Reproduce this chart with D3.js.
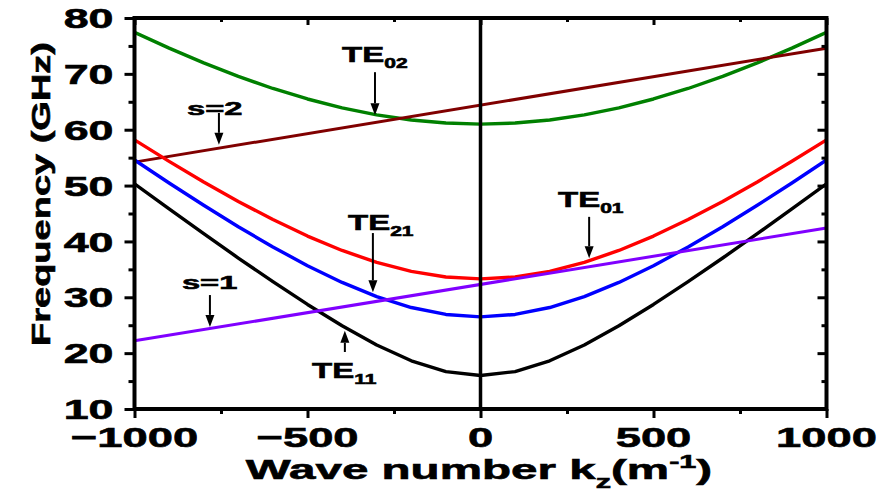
<!DOCTYPE html>
<html>
<head>
<meta charset="utf-8">
<script src="https://cdn.jsdelivr.net/npm/d3@7/dist/d3.min.js"></script>
<style>
  html, body { margin: 0; padding: 0; background: #fff; }
  svg { display: block; }
  text { font-family: "Liberation Sans", Arial, sans-serif; font-weight: bold; fill: #000;
         stroke: #000; stroke-width: 0.6px; }
</style>
</head>
<body>
<svg id="chart" width="880" height="499"></svg>
<script>
// Wave numbers (m^-1) at which the mode curves are sampled
const kz = [-1000, -900, -800, -700, -600, -500, -400, -300, -200, -100, 0,
            100, 200, 300, 400, 500, 600, 700, 800, 900, 1000];

// Waveguide mode dispersion curves, frequency in GHz
const te11 = [50.32, 45.82, 41.39, 37.03, 32.79, 28.72, 24.90, 21.47, 18.63, 16.70, 16.00,
              16.70, 18.63, 21.47, 24.90, 28.72, 32.79, 37.03, 41.39, 45.82, 50.32];
const te21 = [54.58, 50.46, 46.47, 42.63, 39.01, 35.66, 32.66, 30.12, 28.17, 26.93, 26.50,
              26.93, 28.17, 30.12, 32.66, 35.66, 39.01, 42.63, 46.47, 50.46, 54.58];
const te01 = [58.18, 54.34, 50.65, 47.16, 43.91, 40.96, 38.38, 36.25, 34.64, 33.64, 33.30,
              33.64, 34.64, 36.25, 38.38, 40.96, 43.91, 47.16, 50.65, 54.34, 58.18];
const te02 = [77.44, 74.60, 71.96, 69.54, 67.38, 65.50, 63.92, 62.66, 61.74, 61.19, 61.00,
              61.19, 61.74, 62.66, 63.92, 65.50, 67.38, 69.54, 71.96, 74.60, 77.44];

// Beam-wave (cyclotron harmonic) lines, end points
const beamKz = [-1000, 1000];
const s1 = [22.2, 42.4];
const s2 = [54.2, 74.6];

// Axis tick values
const xTicks = [-1000, -500, 0, 500, 1000];
const xMinor = [-750, -250, 250, 750];
const yTicks = [10, 20, 30, 40, 50, 60, 70, 80];
const yMinor = [15, 25, 35, 45, 55, 65, 75];

const svg = d3.select("#chart");
const L = 134.5, R = 826.5, T = 18, B = 409;
const x = d3.scaleLinear().domain([-1000, 1000]).range([L, R]);
const y = d3.scaleLinear().domain([10, 80]).range([B, T]);

const curves = [
  { kz: kz, f: te02, color: "#008000", w: 3.4 },
  { kz: beamKz, f: s2, color: "#800000", w: 3 },
  { kz: kz, f: te01, color: "#ff0000", w: 3.4 },
  { kz: kz, f: te21, color: "#0000ff", w: 3.4 },
  { kz: kz, f: te11, color: "#000000", w: 3.4 },
  { kz: beamKz, f: s1, color: "#8000ff", w: 3 }
];

const line = d3.line().x(d => x(d[0])).y(d => y(d[1]));
const plot = svg.append("g");
plot.append("clipPath").attr("id", "clip")
  .append("rect").attr("x", L).attr("y", T).attr("width", R - L).attr("height", B - T);
const lines = plot.append("g").attr("clip-path", "url(#clip)");
curves.forEach(c => {
  lines.append("path")
    .datum(c.kz.map((k, i) => [k, c.f[i]]))
    .attr("d", line)
    .attr("fill", "none")
    .attr("stroke", c.color)
    .attr("stroke-width", c.w)
    .attr("stroke-linejoin", "round");
});

// Vertical line at kz = 0
svg.append("line")
  .attr("x1", x(0)).attr("x2", x(0)).attr("y1", y(80)).attr("y2", y(10))
  .attr("stroke", "#000").attr("stroke-width", 3.5);

// Axes with ticks
const fmt = d => d < 0 ? "\u2212" + Math.abs(d) : String(d);
function styleAxis(g) {
  g.select(".domain").remove();
  g.selectAll(".tick line").attr("stroke", "#000").attr("stroke-width", 3);
}
svg.append("g").attr("transform", `translate(0,${B})`)
  .call(d3.axisBottom(x).tickValues(xTicks).tickSize(9).tickFormat("")).call(styleAxis);
svg.append("g").attr("transform", `translate(0,${B})`)
  .call(d3.axisBottom(x).tickValues(xMinor).tickSize(5).tickFormat("")).call(styleAxis);
svg.append("g").attr("transform", `translate(0,${T})`)
  .call(d3.axisTop(x).tickValues(xTicks).tickSize(-7).tickFormat("")).call(styleAxis);
svg.append("g").attr("transform", `translate(0,${T})`)
  .call(d3.axisTop(x).tickValues(xMinor).tickSize(-4).tickFormat("")).call(styleAxis);
svg.append("g").attr("transform", `translate(${L},0)`)
  .call(d3.axisLeft(y).tickValues(yTicks).tickSize(10).tickFormat("")).call(styleAxis);
svg.append("g").attr("transform", `translate(${L},0)`)
  .call(d3.axisLeft(y).tickValues(yMinor).tickSize(6).tickFormat("")).call(styleAxis);
svg.append("g").attr("transform", `translate(${R},0)`)
  .call(d3.axisRight(y).tickValues(yTicks).tickSize(-9).tickFormat("")).call(styleAxis);
svg.append("g").attr("transform", `translate(${R},0)`)
  .call(d3.axisRight(y).tickValues(yMinor).tickSize(-5).tickFormat("")).call(styleAxis);

// Frame
svg.append("rect")
  .attr("x", L).attr("y", T).attr("width", R - L).attr("height", B - T)
  .attr("fill", "none").attr("stroke", "#000").attr("stroke-width", 4);

// Wide bold text helper: horizontally stretched glyphs
function wideText(px, py, sx, anchor, size, rot) {
  const g = svg.append("g")
    .attr("transform", `translate(${px},${py})` + (rot ? ` rotate(${rot})` : "") + ` scale(${sx},1)`);
  return g.append("text").attr("text-anchor", anchor).attr("font-size", size);
}

// Tick labels
yTicks.forEach(v => {
  wideText(L - 21, y(v), 1.6, "end", 28).attr("dy", "0.36em").text(fmt(v));
});
xTicks.forEach(v => {
  wideText(x(v), 447, 1.62, "middle", 28).text(fmt(v));
});

// Axis titles
const xt = wideText(479, 479, 1.7, "middle", 28);
xt.append("tspan").text("Wave number k");
xt.append("tspan").attr("font-size", 18).attr("dy", 9).text("z");
xt.append("tspan").attr("dy", -9).text("(m");
xt.append("tspan").attr("font-size", 18).attr("dy", -11).text("-1");
xt.append("tspan").attr("dy", 11).text(")");

wideText(50, 194, 1.52, "middle", 25, -90).text("Frequency (GHz)");

// Mode and harmonic annotations (data coordinates)
const notes = [
  { main: "TE", sub: "02", lk: -400, lf: 72.1, ak: -305, from: 70.3, to: 62.6 },
  { main: "TE", sub: "21", lk: -383, lf: 42.0, ak: -311, from: 41.5, to: 30.9 },
  { main: "TE", sub: "01", lk: 224, lf: 46.2, ak: 314, from: 44.4, to: 37.0 },
  { main: "TE", sub: "11", lk: -487, lf: 15.55, ak: -392, from: 20.2, to: 24.0 },
  { main: "s=2", sub: "", lk: -848, lf: 62.6, ak: -756, from: 63.0, to: 57.3 },
  { main: "s=1", sub: "", lk: -863, lf: 31.5, ak: -782, from: 30.4, to: 24.7 }
];
notes.forEach(n => {
  const sx = n.sub ? 1.5 : 1.72;
  const fs = n.sub ? 22 : 19;
  const t = wideText(x(n.lk), y(n.lf), sx, "start", fs);
  t.append("tspan").text(n.main);
  if (n.sub) t.append("tspan").attr("font-size", 14).attr("dy", 6).text(n.sub);

  const ax = x(n.ak), y0 = y(n.from), y1 = y(n.to);
  const dir = y1 > y0 ? 1 : -1;
  const head = 12, hw = 4.5;
  svg.append("line")
    .attr("x1", ax).attr("x2", ax).attr("y1", y0).attr("y2", y1 - dir * head)
    .attr("stroke", "#000").attr("stroke-width", 2);
  svg.append("path")
    .attr("d", `M${ax - hw},${y1 - dir * head} L${ax + hw},${y1 - dir * head} L${ax},${y1} Z`)
    .attr("fill", "#000");
});
</script>
</body>
</html>
